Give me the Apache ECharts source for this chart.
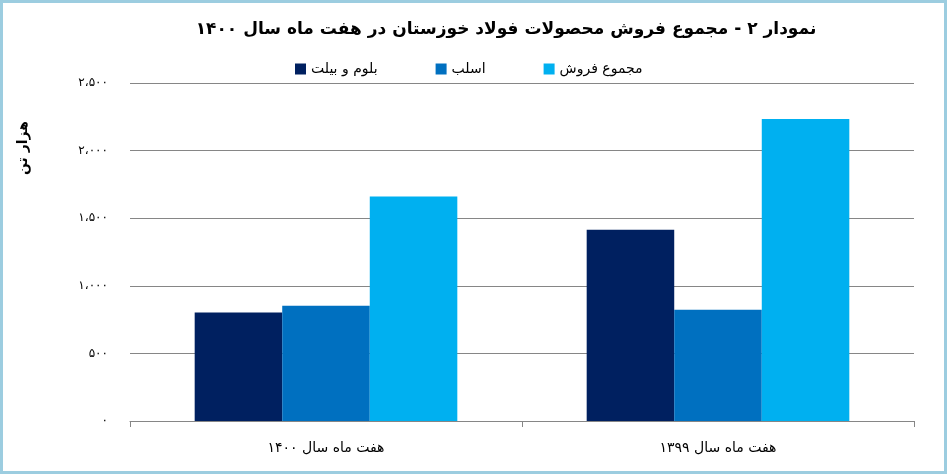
<!DOCTYPE html>
<html>
<head>
<meta charset="utf-8">
<script src="https://cdn.jsdelivr.net/npm/echarts@6/dist/echarts.min.js"></script>
<style>
    html, body {margin: 0; padding: 0; background: #fff;}
    #main {width: 947px; height: 474px; box-sizing: border-box; border: 3px solid #9ccde0;}
</style>
</head>
<body>
<div id="main"></div>
<script>
// داده‌های نمودار (هزار تن)
var categories = ['هفت ماه سال ۱۴۰۰', 'هفت ماه سال ۱۳۹۹'];
var bloomBillet = [803, 1414];
var slab = [852, 823];
var totalSales = [1660, 2233];
var seriesNames = ['بلوم و بیلت', 'اسلب', 'مجموع فروش'];
var yTicks = ['۰', '۵۰۰', '۱،۰۰۰', '۱،۵۰۰', '۲،۰۰۰', '۲،۵۰۰'];

var font = 'DejaVu Sans';
var myChart = echarts.init(document.getElementById('main'));

myChart.setOption({
    animation: false,
    color: ['#002060', '#0070C0', '#00B0F0'],
    title: {
        text: 'نمودار ۲ - مجموع فروش محصولات فولاد خوزستان در هفت ماه سال ۱۴۰۰',
        left: 498,
        top: 13,
        textAlign: 'center',
        textStyle: {fontFamily: font, fontSize: 17, fontWeight: 'bold', color: '#000'}
    },
    legend: {
        data: seriesNames,
        left: 287,
        top: 54,
        itemWidth: 11,
        itemHeight: 11,
        itemGap: 58,
        icon: 'rect',
        textStyle: {fontFamily: font, fontSize: 14, color: '#000'}
    },
    graphic: [{
        type: 'text',
        x: 20,
        y: 145,
        rotation: Math.PI / 2,
        style: {
            text: 'هزار تن',
            fontFamily: font,
            fontSize: 14,
            fontWeight: 'bold',
            fill: '#000',
            textAlign: 'center',
            textVerticalAlign: 'middle'
        }
    }],
    grid: {left: 127, right: 30, top: 80, bottom: 50},
    xAxis: {
        type: 'category',
        data: categories,
        axisLine: {lineStyle: {color: '#868686'}},
        axisTick: {show: true, length: 6, lineStyle: {color: '#868686'}},
        axisLabel: {fontFamily: font, fontSize: 14, color: '#000', margin: 20}
    },
    yAxis: {
        type: 'value',
        min: 0,
        max: 2500,
        interval: 500,
        axisLine: {show: false},
        axisTick: {show: false},
        splitLine: {lineStyle: {color: '#868686', width: 1}},
        axisLabel: {
            fontFamily: font, fontSize: 12, color: '#000', margin: 22,
            formatter: function (v) { return yTicks[v / 500]; }
        }
    },
    series: [
        {name: seriesNames[0], type: 'bar', data: bloomBillet, barGap: 0, barCategoryGap: '33%'},
        {name: seriesNames[1], type: 'bar', data: slab, barGap: 0, barCategoryGap: '33%'},
        {name: seriesNames[2], type: 'bar', data: totalSales, barGap: 0, barCategoryGap: '33%'}
    ]
});
</script>
</body>
</html>
